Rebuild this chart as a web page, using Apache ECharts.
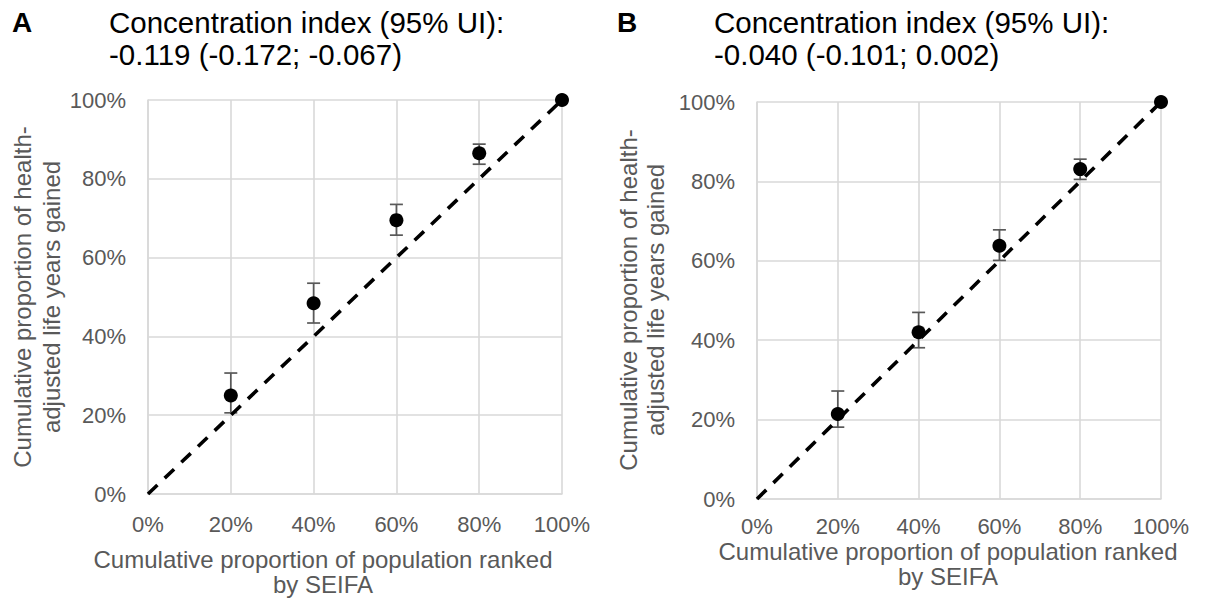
<!DOCTYPE html>
<html>
<head>
<meta charset="utf-8">
<script src="https://cdn.jsdelivr.net/npm/echarts@6/dist/echarts.min.js"></script>
<style>
  html, body { margin: 0; padding: 0; background: #ffffff; }
  #chart { width: 1208px; height: 600px; }
</style>
</head>
<body>
<div id="chart"></div>
<script>
// Cumulative share of population ranked by SEIFA (x, %)
const popShare = [20, 40, 60, 80, 100];
const xTicks = [0, 20, 40, 60, 80, 100];

// Panel A: cumulative share of HALYs gained (%) with 95% UI
const halyA = [25.0, 48.4, 69.5, 86.5, 100];
const lowA = [20.6, 43.4, 65.7, 83.7];
const highA = [30.7, 53.5, 73.5, 88.8];

// Panel B
const halyB = [21.4, 42.0, 63.8, 83.1, 100];
const lowB = [18.1, 38.1, 60.1, 80.5];
const highB = [27.2, 47.0, 67.8, 85.6];

// Line of equality
const equalityX = [0, 100];
const equalityY = [0, 100];

const titleA = ['Concentration index (95% UI):', '-0.119 (-0.172; -0.067)'];
const titleB = ['Concentration index (95% UI):', '-0.040 (-0.101; 0.002)'];
const xName = ['Cumulative proportion of population ranked', 'by SEIFA'];
const yName = 'Cumulative proportion of health-\nadjusted life years gained';

const FONT = '"Liberation Sans", Arial, Helvetica, sans-serif';
const GRID_COLOR = '#d9d9d9';
const TEXT_GREY = '#595959';

const chart = echarts.init(document.getElementById('chart'), null, { renderer: 'svg' });

function axisPair(idx, labelMargin) {
  const common = {
    type: 'value', min: xTicks[0], max: xTicks[xTicks.length - 1], interval: 20,
    gridIndex: idx,
    axisLine: { show: true, lineStyle: { color: GRID_COLOR, width: 1.6 } },
    axisTick: { show: false },
    splitLine: { show: true, lineStyle: { color: GRID_COLOR, width: 1.6 } },
    axisLabel: { formatter: '{value}%', color: TEXT_GREY, fontSize: 22, fontFamily: FONT }
  };
  return {
    x: Object.assign({}, common, { axisLabel: Object.assign({}, common.axisLabel, { margin: labelMargin }) }),
    y: Object.assign({}, common, { axisLabel: Object.assign({}, common.axisLabel, { margin: 22 }) })
  };
}

const axA = axisPair(0, 19);
const axB = axisPair(1, 16);

function errorSeries(idx, low, high) {
  return {
    type: 'custom',
    xAxisIndex: idx, yAxisIndex: idx,
    z: 2,
    data: low.map((l, i) => [popShare[i], l, high[i]]),
    encode: { x: 0, y: [1, 2] },
    renderItem: function (params, api) {
      const lo = api.coord([api.value(0), api.value(1)]);
      const hi = api.coord([api.value(0), api.value(2)]);
      const cap = 6.5;
      const style = { stroke: '#595959', lineWidth: 1.7 };
      return {
        type: 'group',
        children: [
          { type: 'line', shape: { x1: lo[0], y1: lo[1], x2: hi[0], y2: hi[1] }, style: style },
          { type: 'line', shape: { x1: lo[0] - cap, y1: lo[1], x2: lo[0] + cap, y2: lo[1] }, style: style },
          { type: 'line', shape: { x1: hi[0] - cap, y1: hi[1], x2: hi[0] + cap, y2: hi[1] }, style: style }
        ]
      };
    }
  };
}

function pointSeries(idx, vals) {
  return {
    type: 'scatter', xAxisIndex: idx, yAxisIndex: idx, z: 3,
    symbol: 'circle', symbolSize: 14,
    itemStyle: { color: '#000000', opacity: 1 },
    data: popShare.map((x, i) => [x, vals[i]])
  };
}

function equalitySeries(idx) {
  return {
    type: 'line', xAxisIndex: idx, yAxisIndex: idx, z: 4,
    showSymbol: false, silent: true,
    lineStyle: { color: '#000000', width: 3.6, type: [13, 10] },
    data: equalityX.map((x, i) => [x, equalityY[i]])
  };
}

function txt(x, y, text, opts) {
  return {
    type: 'text', x: x, y: y, rotation: (opts && opts.rotation) || 0,
    style: Object.assign({
      text: text, fontFamily: FONT, fontSize: 24, fill: TEXT_GREY,
      textAlign: 'center', textVerticalAlign: 'middle'
    }, (opts && opts.style) || {})
  };
}

const titleStyle = { fontSize: 29.5, fill: '#000000', textAlign: 'left' };
const panelStyle = { fontSize: 28, fontWeight: 'bold', fill: '#000000', textAlign: 'left' };

chart.setOption({
  animation: false,
  backgroundColor: '#ffffff',
  grid: [
    { left: 148, top: 100, width: 414, height: 394 },
    { left: 757, top: 102, width: 404, height: 397 }
  ],
  xAxis: [axA.x, axB.x],
  yAxis: [axA.y, axB.y],
  series: [
    errorSeries(0, lowA, highA), pointSeries(0, halyA), equalitySeries(0),
    errorSeries(1, lowB, highB), pointSeries(1, halyB), equalitySeries(1)
  ],
  graphic: [
    txt(12, 22.5, 'A', { style: panelStyle }),
    txt(109, 22.2, titleA[0], { style: titleStyle }),
    txt(109, 54.5, titleA[1], { style: titleStyle }),
    txt(617, 22.5, 'B', { style: panelStyle }),
    txt(714, 22.2, titleB[0], { style: titleStyle }),
    txt(714, 54.5, titleB[1], { style: titleStyle }),

    txt(323, 559, xName[0]),
    txt(323, 584, xName[1]),
    txt(948, 551, xName[0]),
    txt(948, 576, xName[1]),

    txt(36.5, 297, yName, { rotation: Math.PI / 2, style: { lineHeight: 29 } }),
    txt(641.5, 300, yName, { rotation: Math.PI / 2, style: { lineHeight: 27 } })
  ]
});
</script>
</body>
</html>
